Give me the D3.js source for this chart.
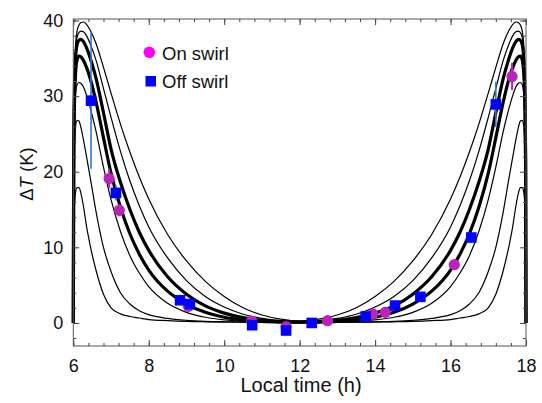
<!DOCTYPE html>
<html><head><meta charset="utf-8">
<script src="https://cdn.jsdelivr.net/npm/d3@7"></script>
<style>body{margin:0;background:#fff}svg{display:block}text{font-family:"Liberation Sans",Arial,sans-serif}</style>
</head><body><svg id="c" width="542" height="403"></svg>
<script>
// Morning sample times (h); afternoon is the mirror image about noon
const timeGrid = [6.0, 6.01, 6.03, 6.06, 6.1, 6.15, 6.2, 6.27, 6.35, 6.45, 6.6, 6.8, 7.0, 7.25, 7.5, 7.75, 8.0, 8.5, 9.0, 9.5, 10.0, 10.5, 11.0, 11.5, 12.0];
const curveA = [0, 22, 32.5, 36.8, 38.6, 39.4, 39.7, 39.8, 39.5, 38.7, 37.0, 33.8, 30.4, 26.3, 22.6, 19.3, 16.4, 11.7, 8.2, 5.5, 3.5, 2.0, 1.05, 0.5, 0.25];
const curveB = [0, 21.5, 32, 36, 37.8, 38.4, 38.6, 38.5, 38.0, 36.9, 34.8, 31.0, 27.2, 22.7, 18.8, 15.5, 12.7, 8.6, 5.6, 3.5, 2.1, 1.15, 0.6, 0.3, 0.15];
const curveC = [0, 21, 31, 35, 36.8, 37.4, 37.5, 37.2, 36.4, 35.0, 32.4, 27.8, 23.0, 18.6, 15.0, 12.0, 9.6, 6.1, 3.8, 2.25, 1.3, 0.7, 0.35, 0.18, 0.12];
const curveD = [0, 20, 29, 33, 34.8, 35.3, 35.2, 34.7, 33.8, 32.3, 29.3, 24.5, 19.8, 15.3, 11.8, 9.1, 7.0, 4.2, 2.5, 1.4, 0.75, 0.4, 0.2, 0.12, 0.1];
const curveE = [0, 19, 27, 30.3, 31.5, 31.8, 31.7, 31.2, 30.1, 28.4, 25.4, 20.6, 16.3, 12.1, 8.9, 6.6, 4.8, 2.6, 1.4, 0.75, 0.4, 0.22, 0.14, 0.1, 0.08];
const curveF = [0, 17, 23.5, 26, 26.8, 26.7, 25.9, 24.2, 22.0, 19.2, 14.8, 10.0, 6.8, 4.0, 2.5, 1.6, 1.1, 0.6, 0.35, 0.22, 0.16, 0.12, 0.1, 0.08, 0.07];
const curveG = [0, 11, 15.5, 17.3, 17.9, 17.9, 17.2, 15.4, 12.8, 10.2, 7.0, 3.8, 2.0, 1.2, 0.85, 0.65, 0.45, 0.3, 0.2, 0.15, 0.12, 0.1, 0.08, 0.07, 0.06];
const curveWidths = [1.2, 1.2, 3.2, 3.2, 1.2, 1.2, 1.2];

const onTime = [6.95, 7.22, 9.05, 10.73, 11.64, 12.74, 13.94, 14.27, 16.1, 17.63];
const onVal  = [19.1, 14.9, 2.2, 0.25, -0.5, 0.3, 1.2, 1.4, 7.7, 32.6];
const onErr  = [1.3, 0.8, 0, 0, 0, 0, 0, 0, 0, 1.8];
const offTime = [6.47, 7.13, 8.83, 9.09, 10.74, 11.64, 12.32, 13.75, 14.53, 15.2, 16.55, 17.2];
const offVal  = [29.4, 17.2, 3.0, 2.5, -0.3, -1.0, 0.0, 0.85, 2.3, 3.45, 11.3, 28.9];
const offErr  = [9.0, 1.0, 0, 0, 0, 0, 0, 0, 0, 0, 0, 3.0];

const xMajor = [6, 8, 10, 12, 14, 16, 18];
const yMajor = [0, 10, 20, 30, 40];
const legendLabels = ["On swirl", "Off swirl"];

const svg = d3.select("#c");
const L = 73.3, R = 526, T = 19, B = 346;
const x = d3.scaleLinear().domain([6, 18]).range([L, R]);
const y = d3.scaleLinear().domain([-3.05, 40.2]).range([B, T]);

const curves = [curveA, curveB, curveC, curveD, curveE, curveF, curveG];
const line = d3.line().x(d => x(d[0])).y(d => y(d[1])).curve(d3.curveMonotoneX);
const order = [0, 1, 4, 5, 6, 2, 3];
order.forEach(i => {
  const c = curves[i];
  const morning = timeGrid.map((t, k) => [t, c[k]]);
  const afternoon = timeGrid.slice(0, -1).map((t, k) => [24 - t, c[k]]).reverse();
  svg.append("path").attr("d", line(morning.concat(afternoon)))
    .attr("fill", "none").attr("stroke", "#000").attr("stroke-width", curveWidths[i])
    .attr("stroke-linejoin", "round");
});

// axes box with inward ticks
svg.append("g").attr("transform", `translate(0,${B})`)
  .call(d3.axisBottom(x).tickValues(d3.range(6, 18.01, 0.4)).tickSizeInner(-3).tickSizeOuter(0).tickFormat(""));
svg.append("g").attr("transform", `translate(0,${B})`)
  .call(d3.axisBottom(x).tickValues(xMajor).tickSizeInner(-6).tickSizeOuter(0).tickPadding(13).tickFormat(d3.format("d")));
svg.append("g").attr("transform", `translate(0,${T})`)
  .call(d3.axisTop(x).tickValues(d3.range(6, 18.01, 0.4)).tickSizeInner(-3).tickSizeOuter(0).tickFormat(""));
svg.append("g").attr("transform", `translate(0,${T})`)
  .call(d3.axisTop(x).tickValues(xMajor).tickSizeInner(-6).tickSizeOuter(0).tickFormat(""));
svg.append("g").attr("transform", `translate(${L},0)`)
  .call(d3.axisLeft(y).tickValues(d3.range(-2, 40.1, 2)).tickSizeInner(-3).tickSizeOuter(0).tickFormat(""));
svg.append("g").attr("transform", `translate(${L},0)`)
  .call(d3.axisLeft(y).tickValues(yMajor).tickSizeInner(-6).tickSizeOuter(0).tickPadding(10).tickFormat(d3.format("d")));
svg.append("g").attr("transform", `translate(${R},0)`)
  .call(d3.axisRight(y).tickValues(d3.range(-2, 40.1, 2)).tickSizeInner(-3).tickSizeOuter(0).tickFormat(""));
svg.append("g").attr("transform", `translate(${R},0)`)
  .call(d3.axisRight(y).tickValues(yMajor).tickSizeInner(-6).tickSizeOuter(0).tickFormat(""));
svg.selectAll(".domain").remove();
svg.selectAll(".tick line").attr("stroke", "#444");
svg.selectAll(".tick text").attr("font-size", 18).attr("fill", "#111").attr("font-family", '"Liberation Sans",Arial,sans-serif');
svg.append("rect").attr("x", L).attr("y", T).attr("width", R - L).attr("height", B - T)
  .attr("fill", "none").attr("stroke", "#555").attr("stroke-width", 1);

// error bars
const eb = svg.append("g");
offTime.forEach((t, i) => { if (offErr[i] > 0) eb.append("line").attr("x1", x(t)).attr("x2", x(t))
  .attr("y1", y(offVal[i] - offErr[i])).attr("y2", y(offVal[i] + offErr[i])).attr("stroke", "#2a7ad0").attr("stroke-width", 1.6); });
onTime.forEach((t, i) => { if (onErr[i] > 0) eb.append("line").attr("x1", x(t)).attr("x2", x(t))
  .attr("y1", y(onVal[i] - onErr[i])).attr("y2", y(onVal[i] + onErr[i])).attr("stroke", "#bb22bb").attr("stroke-width", 2); });

// points
svg.append("g").selectAll("circle").data(onTime).join("circle")
  .attr("cx", (d) => x(d)).attr("cy", (d, i) => y(onVal[i])).attr("r", 5.6).attr("fill", "#bb22bb");
svg.append("g").selectAll("rect").data(offTime).join("rect")
  .attr("x", d => x(d) - 5.3).attr("y", (d, i) => y(offVal[i]) - 5.3).attr("width", 10.6).attr("height", 10.6).attr("fill", "#0000ff");

// legend
svg.append("circle").attr("cx", 149.3).attr("cy", 52.3).attr("r", 5.8).attr("fill", "#ff00ff");
svg.append("rect").attr("x", 145.5).attr("y", 76).attr("width", 10.5).attr("height", 10.5).attr("fill", "#0000ff");
svg.append("text").attr("x", 162).attr("y", 59.5).attr("font-size", 18.5).attr("fill", "#111").text(legendLabels[0]);
svg.append("text").attr("x", 162).attr("y", 88).attr("font-size", 18.5).attr("fill", "#111").text(legendLabels[1]);

// axis titles
svg.append("text").attr("x", 301).attr("y", 392).attr("text-anchor", "middle").attr("font-size", 20).attr("fill", "#111").text("Local time (h)");
const yl = svg.append("text").attr("transform", "translate(33,174) rotate(-90)").attr("text-anchor", "middle").attr("font-size", 18.5).attr("fill", "#111");
yl.append("tspan").text("\u0394");
yl.append("tspan").attr("font-style", "italic").text("T");
yl.append("tspan").text(" (K)");
</script></body></html>
